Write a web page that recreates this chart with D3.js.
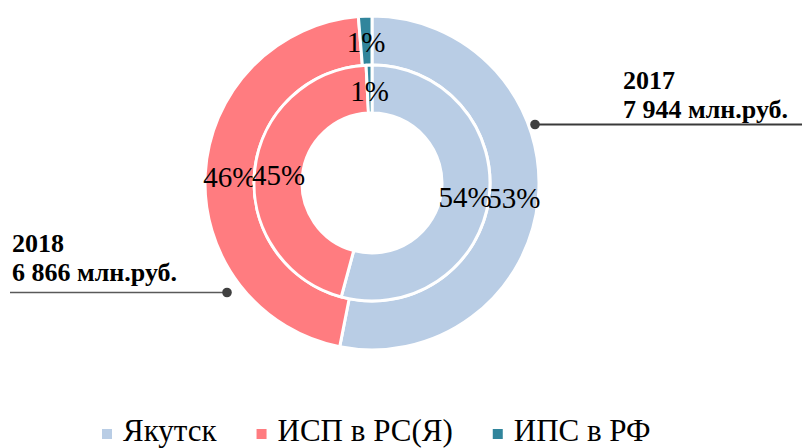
<!DOCTYPE html>
<html>
<head>
<meta charset="utf-8">
<script src="https://cdn.jsdelivr.net/npm/d3@7"></script>
<style>
  html, body { margin: 0; padding: 0; background: #fff; }
  svg { display: block; }
</style>
</head>
<body>
<svg id="chart" width="802" height="448"></svg>
<script>
// ---- data ----
const categories = ["Якутск", "ИСП в РС(Я)", "ИПС в РФ"];
const colors = ["#B9CDE5", "#FF7C80", "#31859C"];
// outer ring (2017), shares in %
const values2017 = [53.1, 45.6, 1.3];
// inner ring (2018), shares in %
const values2018 = [54.2, 45.0, 0.8];
const yearLabels = ["2017", "2018"];
const totalLabels = ["7 944 млн.руб.", "6 866 млн.руб."];

// ---- layout ----
const svg = d3.select("#chart");
const cx = 372, cy = 183;
const rOuter = 167, rMid = 118, rInner = 70;
const serif = "'Liberation Serif', 'Times New Roman', serif";

const pie = d3.pie().sort(null).value(d => d);
const color = d3.scaleOrdinal().domain(categories).range(colors);

const g = svg.append("g").attr("transform", `translate(${cx},${cy})`);

function ring(values, r0, r1, cls) {
  const arc = d3.arc().innerRadius(r0).outerRadius(r1);
  const data = pie(values).map((d, i) => Object.assign(d, { cat: categories[i] }));
  const rg = g.append("g").attr("class", cls);
  rg.selectAll("path").data(data).enter().append("path")
    .attr("d", arc)
    .attr("fill", d => color(d.cat))
    .attr("stroke", "#fff")
    .attr("stroke-width", 3)
    .attr("stroke-linejoin", "round");
  rg.selectAll("text").data(data).enter().append("text")
    .attr("x", d => arc.centroid(d)[0])
    .attr("y", d => arc.centroid(d)[1])
    .attr("dy", "0.4em")
    .attr("text-anchor", "middle")
    .attr("font-family", serif)
    .attr("font-size", 29)
    .attr("fill", "#000")
    .text(d => Math.round(d.data) + "%");
}

ring(values2017, rMid, rOuter, "outer");
ring(values2018, rInner, rMid, "inner");

// ---- annotations ----
function annotation(lines, tx, ty, lx1, lx2, ly, dotX, stroke, sw) {
  const a = svg.append("g");
  a.append("line").attr("x1", lx1).attr("x2", lx2).attr("y1", ly).attr("y2", ly)
    .attr("stroke", stroke).attr("stroke-width", sw);
  a.append("circle").attr("cx", dotX).attr("cy", ly).attr("r", 4.8).attr("fill", "#404040");
  lines.forEach((t, i) => {
    a.append("text").attr("x", tx).attr("y", ty + i * 29)
      .attr("font-family", serif).attr("font-weight", "bold").attr("font-size", 26)
      .attr("fill", "#000").text(t);
  });
}
annotation([yearLabels[0], totalLabels[0]], 623, 89, 535, 802, 124.5, 535, "#3a3a3a", 2);
annotation([yearLabels[1], totalLabels[1]], 12, 252, 10, 227, 292.5, 227, "#595959", 1.4);

// ---- legend ----
const legend = svg.append("g");
let lx = 102;
categories.forEach((c, i) => {
  legend.append("rect").attr("x", lx).attr("y", 429).attr("width", 10).attr("height", 10)
    .attr("fill", colors[i]);
  const t = legend.append("text").attr("x", lx + 21).attr("y", 441)
    .attr("font-family", serif).attr("font-size", 31).attr("fill", "#000").text(c);
  const w = t.node().getComputedTextLength();
  lx = lx + 21 + w + 40;
});
</script>
</body>
</html>
